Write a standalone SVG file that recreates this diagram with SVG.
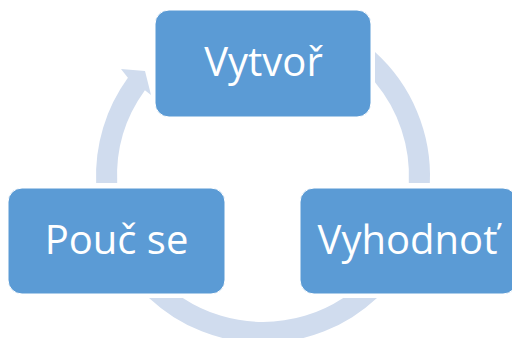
<svg xmlns="http://www.w3.org/2000/svg" width="512" height="338" viewBox="0 0 512 338">
<style>
.box{fill:#5B9BD5;stroke:#FFFFFF;stroke-width:1}
.lbl{fill:#FFFFFF;font-family:"Open Sans","Noto Sans","Liberation Sans",sans-serif;font-size:40px;text-anchor:middle}
.arc{fill:#D0DCEE;stroke:none}
</style>
<rect width="512" height="338" fill="#FFFFFF"/>
<g id="connectors">
<path class="arc" d="M375,52.1 A167,167 0 0 1 429.85,183 L408.8,183 A146,146 0 0 0 375,82.3 Z"/>
<path class="arc" d="M377,298 A167,167 0 0 1 149,298 L182.8,298 A146,146 0 0 0 343.2,298 Z"/>
<path class="arc" d="M96.15,183 A167,167 0 0 1 127.9,77.8 L121,69 L145,71 L151,95 L144.9,90.2 A146,146 0 0 0 117.2,183 Z"/>
</g>
<g id="node-vytvor">
<rect class="box" x="155" y="10" width="216" height="107" rx="14"/>
<text class="lbl" x="263.5" y="76">Vytvoř</text>
</g>
<g id="node-vyhodnot">
<rect class="box" x="300" y="188" width="217" height="106" rx="14"/>
<text class="lbl" x="407.5" y="254">Vyhodnoť</text>
</g>
<g id="node-pouc">
<rect class="box" x="8" y="188" width="217" height="106" rx="14"/>
<text class="lbl" x="116.5" y="254">Pouč se</text>
</g>
</svg>
